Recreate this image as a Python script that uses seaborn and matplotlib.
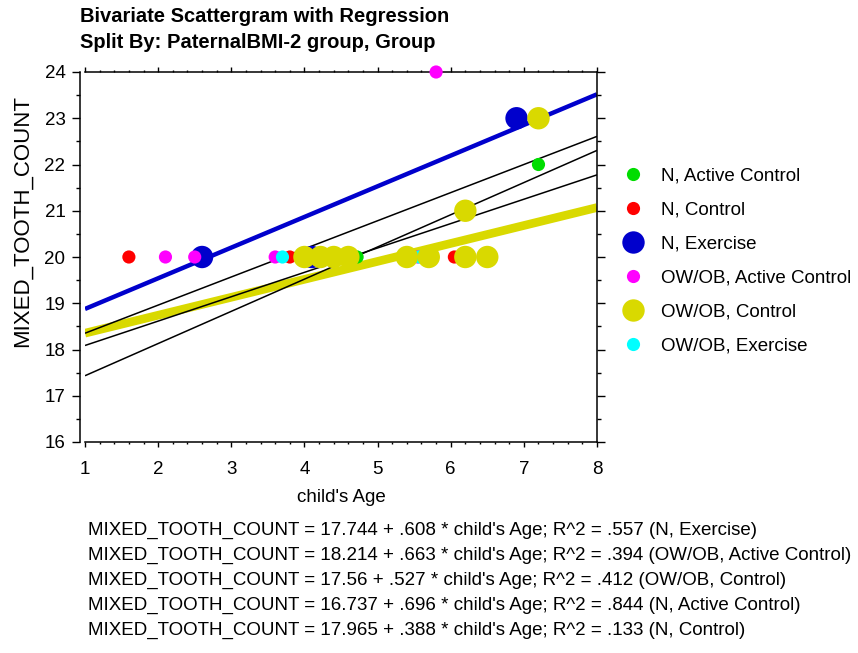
import pandas as pd
import matplotlib
matplotlib.use("Agg")
import matplotlib.pyplot as plt
from matplotlib.lines import Line2D
from matplotlib.ticker import MultipleLocator
import seaborn as sns

# groups in the order the legend lists them
groups = ["N, Active Control", "N, Control", "N, Exercise",
          "OW/OB, Active Control", "OW/OB, Control", "OW/OB, Exercise"]

# points (child's Age, MIXED_TOOTH_COUNT)
n_exercise_x = [2.6, 4.1, 6.9]
n_exercise_y = [20, 20, 23]
n_control_x = [1.6, 3.8, 6.05]
n_control_y = [20, 20, 20]
n_active_x = [4.72, 7.2]
n_active_y = [20, 22]
ow_active_x = [2.1, 2.5, 3.6, 5.55, 5.8]
ow_active_y = [20, 20, 20, 20, 24]
ow_exercise_x = [3.7, 5.57]
ow_exercise_y = [20, 20]
ow_control_x = [4.0, 4.22, 4.4, 4.6, 5.4, 5.7, 6.2, 6.5, 6.2, 7.2]
ow_control_y = [20, 20, 20, 20, 20, 20, 20, 20, 21, 23]

# regression equations as printed under the chart
eq_groups = ["N, Exercise", "OW/OB, Active Control", "OW/OB, Control",
             "N, Active Control", "N, Control"]
eq_intercepts = [17.744, 18.214, 17.56, 16.737, 17.965]
eq_slopes = [.608, .663, .527, .696, .388]
eq_r2 = [".557", ".394", ".412", ".844", ".133"]
eq_intercept_txt = ["17.744", "18.214", "17.56", "16.737", "17.965"]
eq_slope_txt = [".608", ".663", ".527", ".696", ".388"]

x_min, x_max = 1, 8

colors = {"N, Active Control": "#00dd00", "N, Control": "#ff0000",
          "N, Exercise": "#0000cc", "OW/OB, Active Control": "#ff00ff",
          "OW/OB, Control": "#d9d900", "OW/OB, Exercise": "#00ffff"}
sizes = {"N, Active Control": 90, "N, Control": 90, "N, Exercise": 260,
         "OW/OB, Active Control": 90, "OW/OB, Control": 260,
         "OW/OB, Exercise": 90}
# how the regression lines were drawn (colour, width in pt)
line_style = {"OW/OB, Active Control": ("#0000cc", 3.2),
              "N, Control": ("#d9d900", 6.2)}

# draw order (last on top)
parts = [("N, Exercise", n_exercise_x, n_exercise_y),
         ("N, Control", n_control_x, n_control_y),
         ("N, Active Control", n_active_x, n_active_y),
         ("OW/OB, Active Control", ow_active_x, ow_active_y),
         ("OW/OB, Exercise", ow_exercise_x, ow_exercise_y),
         ("OW/OB, Control", ow_control_x, ow_control_y)]
df = pd.concat([pd.DataFrame({"age": xs, "teeth": ys, "group": g})
                for g, xs, ys in parts], ignore_index=True)

sns.set_theme(style="white")
plt.rcParams["font.family"] = ["Liberation Sans", "DejaVu Sans"]
plt.rcParams["text.color"] = "black"
plt.rcParams["axes.labelcolor"] = "black"
plt.rcParams["xtick.color"] = "black"
plt.rcParams["ytick.color"] = "black"
fs = 13.5

fig = plt.figure(figsize=(8.58, 6.53), dpi=100)
ax = fig.add_axes([85 / 858, 1 - 442 / 653, 512 / 858, 370 / 653])

# regression lines (thick coloured ones first, thin black on top)
order = sorted(range(len(eq_groups)), key=lambda i: eq_groups[i] not in line_style)
for i in order:
    col, lw = line_style.get(eq_groups[i], ("black", 1.1))
    xs = [x_min, x_max]
    ys = [eq_intercepts[i] + eq_slopes[i] * x for x in xs]
    ax.plot(xs, ys, color=col, lw=lw, solid_capstyle="butt", zorder=1)

sns.scatterplot(data=df, x="age", y="teeth", hue="group", size="group",
                palette=colors, sizes=sizes, linewidth=0, alpha=1,
                legend=False, ax=ax, zorder=3, clip_on=False)

ax.set_xlim(x_min, x_max)
ax.set_ylim(16, 24)
ax.xaxis.set_major_locator(MultipleLocator(1))
ax.xaxis.set_minor_locator(MultipleLocator(0.2))
ax.yaxis.set_major_locator(MultipleLocator(1))
ax.yaxis.set_minor_locator(MultipleLocator(0.5))
ax.set_xlabel("")
ax.set_ylabel("")

for side in ["left", "right", "top", "bottom"]:
    ax.spines[side].set_visible(True)
    ax.spines[side].set_color("black")
    ax.spines[side].set_linewidth(1.1)
ax.spines["left"].set_position(("outward", 3.6))

ax.tick_params(axis="x", which="both", direction="out", top=True, bottom=True,
               labeltop=False, color="black", width=1, labelsize=fs, pad=10)
ax.tick_params(axis="x", which="major", length=3.6)
ax.tick_params(axis="x", which="minor", length=1.5)
ax.tick_params(axis="y", which="both", direction="out", left=True, right=True,
               labelright=False, color="black", width=1, labelsize=fs, pad=5)
ax.tick_params(axis="y", which="major", length=5.5)
ax.tick_params(axis="y", which="minor", length=3)

fig.text(341 / 858, 1 - 497 / 653, "child's Age", ha="center", va="center",
         fontsize=fs)
fig.text(22 / 858, 1 - 221 / 653, "MIXED_TOOTH_COUNT", rotation=90,
         ha="center", va="center", fontsize=16)

fig.text(80 / 858, 1 - 17 / 653, "Bivariate Scattergram with Regression",
         ha="left", va="center", fontsize=14.5, fontweight="bold")
fig.text(80 / 858, 1 - 43 / 653, "Split By: PaternalBMI-2 group, Group",
         ha="left", va="center", fontsize=14.5, fontweight="bold")

handles = [Line2D([], [], linestyle="none", marker="o", markeredgewidth=0,
                  markerfacecolor=colors[g],
                  markersize=(sizes[g] ** 0.5)) for g in groups]
fig.legend(handles, groups, loc="upper left",
           bbox_to_anchor=(624 / 858, 1 - 167 / 653), frameon=False,
           fontsize=fs, handlelength=1.0, handletextpad=0.95,
           labelspacing=0.9, borderpad=0, borderaxespad=0)

for i in range(len(eq_groups)):
    line = (f"MIXED_TOOTH_COUNT = {eq_intercept_txt[i]} + {eq_slope_txt[i]} * "
            f"child's Age; R^2 = {eq_r2[i]} ({eq_groups[i]})")
    fig.text(88 / 858, 1 - (530 + 25 * i) / 653, line, ha="left",
             va="center", fontsize=fs)

fig.savefig("out.png", dpi=100)
